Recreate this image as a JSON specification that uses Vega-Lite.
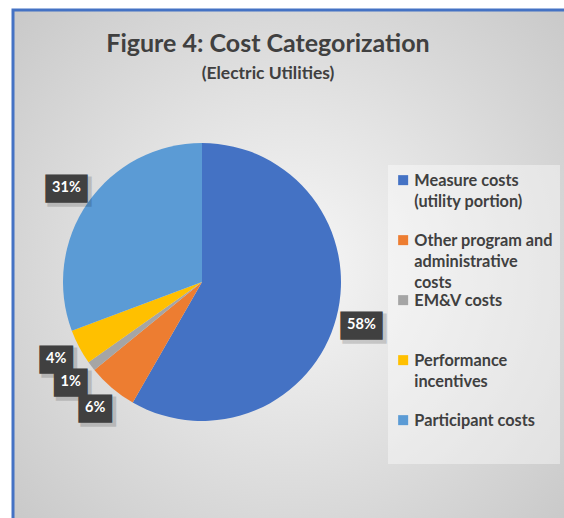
{
  "$schema": "https://vega.github.io/schema/vega-lite/v6.json",
  "width": 556,
  "height": 513,
  "autosize": {"type": "none"},
  "padding": {"left": 13, "top": 10, "right": -5, "bottom": -5},
  "background": "white",
  "view": {
    "fill": {"gradient": "radial", "x1": 0.5, "y1": 0.5, "r1": 0, "x2": 0.5, "y2": 0.5, "r2": 0.75,
      "stops": [{"offset": 0, "color": "#f7f7f7"}, {"offset": 1, "color": "#c4c4c4"}]},
    "stroke": "#4472C4",
    "strokeWidth": 3
  },
  "title": {
    "text": "Figure 4: Cost Categorization",
    "subtitle": "(Electric Utilities)",
    "anchor": "middle",
    "frame": "group",
    "offset": -72,
    "dx": -23,
    "font": "Lato",
    "fontSize": 25,
    "fontWeight": "bold",
    "color": "#404040",
    "subtitleFont": "Lato",
    "subtitleFontSize": 17.5,
    "subtitleFontWeight": "bold",
    "subtitleColor": "#404040",
    "subtitlePadding": 8
  },
  "config": {
    "legend": {
      "orient": "none",
      "legendX": 375,
      "legendY": 155,
      "fillColor": "rgba(255,255,255,0.4)",
      "padding": 7,
      "symbolType": "square",
      "symbolSize": 100,
      "symbolStrokeWidth": 0,
      "labelFont": "Lato",
      "labelFontSize": 16.3,
      "labelFontWeight": "bold",
      "labelColor": "#404040",
      "labelOffset": 3,
      "labelLimit": 0,
      "gridAlign": "all",
      "rowPadding": 0,
      "labelBaseline": "alphabetic",
      "titleOrient": "bottom",
      "titleFontSize": 20,
      "titlePadding": 8
    }
  },
  "data": {
    "values": [
      {"category": "Measure costs (utility portion)", "share": 0.583, "k": 1},
      {"category": "Other program and administrative costs", "share": 0.058, "k": 2},
      {"category": "EM&V costs", "share": 0.011, "k": 3},
      {"category": "Performance incentives", "share": 0.041, "k": 4},
      {"category": "Participant costs", "share": 0.307, "k": 5}
    ]
  },
  "layer": [
    {
      "mark": {"type": "arc", "outerRadius": 139},
      "encoding": {
        "theta": {"field": "share", "type": "quantitative", "stack": true},
        "order": {"field": "k", "type": "quantitative"},
        "x": {"value": 189},
        "y": {"value": 272},
        "color": {
          "field": "category",
          "type": "nominal",
          "sort": null,
          "scale": {
            "domain": ["Measure costs (utility portion)", "Other program and administrative costs", "EM&V costs", "Performance incentives", "Participant costs"],
            "range": ["#4472C4", "#ED7D31", "#A5A5A5", "#FFC000", "#5B9BD5"]
          },
          "legend": {
            "title": " ",
            "labelExpr": "datum.label == 'Measure costs (utility portion)' ? ['Measure costs', '(utility portion)'] : datum.label == 'Other program and administrative costs' ? ['Other program and', 'administrative', 'costs'] : datum.label == 'Performance incentives' ? ['Performance', 'incentives'] : datum.label",
            "encode": {"labels": {"update": {"lineHeight": {"value": 21}, "dy": {"value": 6}}}}
          }
        }
      }
    },
    {
      "mark": {"type": "text", "font": "DejaVu Sans", "fontSize": 17, "color": "#000000", "stroke": "#000000", "strokeWidth": 29, "strokeJoin": "miter", "opacity": 0.15, "dx": 3, "dy": 3, "baseline": "middle", "align": "center", "radius": 165},
      "encoding": {
        "theta": {"field": "share", "type": "quantitative", "stack": true},
        "order": {"field": "k", "type": "quantitative"},
        "x": {"value": 189},
        "y": {"value": 272},
        "text": {"condition": {"test": "datum.share >= 0.095", "value": "—"}, "value": "–"}
      }
    },
    {
      "mark": {"type": "text", "font": "DejaVu Sans", "fontSize": 17, "color": "#404040", "stroke": "#404040", "strokeWidth": 27, "strokeJoin": "miter", "baseline": "middle", "align": "center", "radius": 165},
      "encoding": {
        "theta": {"field": "share", "type": "quantitative", "stack": true},
        "order": {"field": "k", "type": "quantitative"},
        "x": {"value": 189},
        "y": {"value": 272},
        "text": {"condition": {"test": "datum.share >= 0.095", "value": "—"}, "value": "–"}
      }
    },
    {
      "mark": {"type": "text", "font": "Lato", "fontSize": 14.5, "fontWeight": "bold", "color": "#ffffff", "baseline": "middle", "align": "center", "radius": 165},
      "encoding": {
        "theta": {"field": "share", "type": "quantitative", "stack": true},
        "order": {"field": "k", "type": "quantitative"},
        "x": {"value": 189},
        "y": {"value": 272},
        "text": {"field": "share", "type": "quantitative", "format": ".0%"}
      }
    }
  ]
}
